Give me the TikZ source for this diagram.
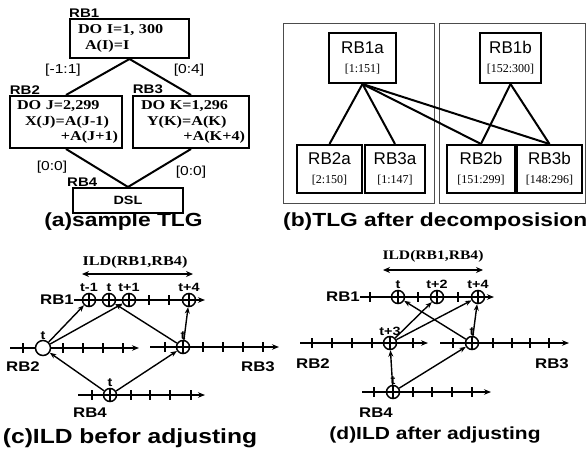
\documentclass[tikz,border=0pt]{standalone}
\usepackage{fontspec}
\setmainfont{Liberation Serif}
\setsansfont{Liberation Sans}
\newfontfamily\wideserif[FakeStretch=1.2]{Liberation Serif}
\newfontfamily\widesans[FakeStretch=1.2]{Liberation Sans}
\usepackage{tikz}
\usetikzlibrary{positioning,arrows.meta}

\begin{document}
\begin{tikzpicture}[x=1pt, y=-1pt,
blockbox/.style={rectangle, draw=black, line width=2pt, inner sep=0pt, align=left, font=\wideserif\bfseries\fontsize{13.5}{15.5}\selectfont},
rbname/.style={font=\widesans\bfseries\fontsize{12.5}{12.5}\selectfont, inner sep=0pt},
dep/.style={font=\widesans\fontsize{13}{13}\selectfont, inner sep=0pt},
tlgedge/.style={line width=2pt},
panel/.style={draw=black!70, line width=0.7pt},
partbox/.style={rectangle, draw=black, line width=2pt, inner sep=0pt, align=center, font=\sffamily\fontsize{17}{17}\selectfont},
caption/.style={font=\widesans\bfseries\fontsize{19}{19}\selectfont, inner sep=0pt},
axisline/.style={line width=1.5pt, -{Stealth[length=7pt,width=5.5pt]}},
tickmark/.style={line width=1.4pt},
opl/.style={circle, draw, line width=1.5pt, fill=white, minimum size=13pt, inner sep=0pt,
  path picture={\draw[line width=1.5pt] (path picture bounding box.north) -- (path picture bounding box.south)
  (path picture bounding box.west) -- (path picture bounding box.east);}},
ocl/.style={circle, draw, line width=1.5pt, fill=white, minimum size=15pt, inner sep=0pt},
tlbl/.style={font=\widesans\bfseries\fontsize{12}{12}\selectfont, inner sep=0pt},
axname/.style={font=\widesans\bfseries\fontsize{14}{14}\selectfont, inner sep=0pt},
ildtext/.style={font=\wideserif\bfseries\fontsize{13.5}{13.5}\selectfont, inner sep=0pt},
ildarrow/.style={line width=1.8pt, {Stealth[length=7pt,width=6pt]}-{Stealth[length=7pt,width=6pt]}},
dlink/.style={line width=1.4pt, -{Stealth[length=6.5pt,width=5pt]}},
]
\useasboundingbox (0,0) rectangle (588,450);

%(a) sample TLG
\node[blockbox, minimum width=119pt, minimum height=39pt, text width=105pt] (rb1) at (129.5,38.5)
  {\hspace*{1pt}DO I=1, 300\\\hspace*{8pt}A(I)=I};
\node[blockbox, minimum width=112pt, minimum height=52pt, text width=104pt] (rb2) at (66,122)
  {\hspace*{3pt}DO J=2,299\\\hspace*{11pt}X(J)=A(J-1)\\\mbox{}\hfill+A(J+1)};
\node[blockbox, minimum width=116pt, minimum height=52pt, text width=108pt] (rb3) at (191,122)
  {\hspace*{4pt}DO K=1,296\\\hspace*{10pt}Y(K)=A(K)\\\mbox{}\hfill+A(K+4)};
\node[blockbox, align=center, minimum width=110pt, minimum height=25pt, font=\widesans\bfseries\fontsize{12}{12}\selectfont] (rb4) at (128,200.5) {DSL};

\node[rbname, above right=0pt of rb1.north west] (rb1name) {RB1};
\node[rbname, above right=1pt of rb2.north west] (rb2name) {RB2};
\node[rbname, above right=1pt of rb3.north west] (rb3name) {RB3};
\node[rbname, above right=0pt and -5pt of rb4.north west] (rb4name) {RB4};

\draw[tlgedge] (rb1.south) -- (rb2.north);
\draw[tlgedge] (rb1.south) -- (rb3.north);
\draw[tlgedge] (rb2.south) -- (rb4.north);
\draw[tlgedge] (rb3.south) -- (rb4.north);

\node[dep] (d12) at (63,70) {[-1:1]};
\node[dep] (d13) at (189,70) {[0:4]};
\node[dep] (d24) at (52,167) {[0:0]};
\node[dep] (d34) at (191,172) {[0:0]};

\node[caption] (capa) at (123.5,222) {(a)sample TLG};

%(b) TLG after decomposision
\draw[panel] (283,23) rectangle (434,203);
\draw[panel] (439,23) rectangle (585,203);

\node[partbox, minimum width=67pt, minimum height=50pt] (rb1a) at (362.5,58)
  {RB1a\\[2pt]{\rmfamily\fontsize{12}{12}\selectfont [1:151]}};
\node[partbox, minimum width=61pt, minimum height=50pt] (rb1b) at (510.5,58)
  {RB1b\\[2pt]{\rmfamily\fontsize{12}{12}\selectfont [152:300]}};
\node[partbox, minimum width=65pt, minimum height=48pt] (rb2a) at (329.5,169)
  {RB2a\\[2pt]{\rmfamily\fontsize{12}{12}\selectfont [2:150]}};
\node[partbox, minimum width=60pt, minimum height=48pt] (rb3a) at (395,169)
  {RB3a\\[2pt]{\rmfamily\fontsize{12}{12}\selectfont [1:147]}};
\node[partbox, minimum width=68pt, minimum height=48pt] (rb2b) at (481,169)
  {RB2b\\[2pt]{\rmfamily\fontsize{12}{12}\selectfont [151:299]}};
\node[partbox, minimum width=65pt, minimum height=48pt] (rb3b) at (549.5,169)
  {RB3b\\[2pt]{\rmfamily\fontsize{12}{12}\selectfont [148:296]}};

\foreach \n in {rb2a,rb3a,rb2b,rb3b}
  \draw[tlgedge] (rb1a.south) -- (\n.north);
\draw[tlgedge] (rb1b.south) -- (rb2b.north);
\draw[tlgedge] (rb1b.south) -- (rb3b.north);

\node[caption, anchor=west] (capb) at (283,222) {(b)TLG after decomposision};

%(c) ILD befor adjusting
\node[ildtext] (cild) at (135,262) {ILD(RB1,RB4)};
\coordinate (cildl) at (82,274);
\coordinate (cildr) at (193,274);
\draw[ildarrow] (cildl) -- (cildr);

\coordinate (c1s) at (74,300);  \coordinate (c1e) at (205,300);
\coordinate (c2s) at (10,348);  \coordinate (c2e) at (139,348);
\coordinate (c3s) at (150,347); \coordinate (c3e) at (279,347);
\coordinate (c4s) at (78,395);  \coordinate (c4e) at (205,395);
\draw[axisline] (c1s) -- (c1e);
\draw[axisline] (c2s) -- (c2e);
\draw[axisline] (c3s) -- (c3e);
\draw[axisline] (c4s) -- (c4e);
\foreach \x in {149,169} \draw[tickmark] (\x,295) -- (\x,305);
\foreach \x in {23,63,83,103,123} \draw[tickmark] (\x,343) -- (\x,353);
\foreach \x in {165,203,223,243,263} \draw[tickmark] (\x,342) -- (\x,352);
\foreach \x in {92,131,150,170,191} \draw[tickmark] (\x,390) -- (\x,400);

\node[opl] (c1m1) at (89,300) {};
\node[opl] (c1t) at (109,300) {};
\node[opl] (c1p1) at (129,300) {};
\node[opl] (c1p4) at (189,300) {};
\node[ocl] (c2t) at (43,348) {};
\node[opl] (c3t) at (183,347) {};
\node[opl] (c4t) at (110,395) {};

\node[tlbl, above=1pt of c1m1] {t-1};
\node[tlbl, above=1pt of c1t] {t};
\node[tlbl, above=1pt of c1p1] {t+1};
\node[tlbl, above=1pt of c1p4] {t+4};
\node[tlbl, above=0pt of c2t] {t};
\node[tlbl, above=0pt of c3t] {t};
\node[tlbl, above=1pt of c4t] {t};

\node[axname, left=0pt of c1s] (c1name) {RB1};
\node[axname] (c2name) at (23,367) {RB2};
\node[axname] (c3name) at (258,367) {RB3};
\node[axname] (c4name) at (90,413) {RB4};

\draw[dlink] (c2t) -- (c1m1);
\draw[dlink] (c2t) -- (c1p1);
\draw[dlink] (c3t) -- (c1t);
\draw[dlink] (c3t) -- (c1p4);
\draw[dlink] (c4t) -- (c2t);
\draw[dlink] (c4t) -- (c3t);

\node[caption, font=\widesans\bfseries\fontsize{20.5}{20.5}\selectfont] (capc) at (130,438) {(c)ILD befor adjusting};

%(d) ILD after adjusting
\node[ildtext, font=\wideserif\bfseries\fontsize{13}{13}\selectfont] (dild) at (433,256) {ILD(RB1,RB4)};
\coordinate (dildl) at (383,270);
\coordinate (dildr) at (483,270);
\draw[ildarrow] (dildl) -- (dildr);

\coordinate (d1s) at (360,297); \coordinate (d1e) at (494,297);
\coordinate (d2s) at (300,343); \coordinate (d2e) at (428,343);
\coordinate (d3s) at (440,343); \coordinate (d3e) at (569,343);
\coordinate (d4s) at (362,392); \coordinate (d4e) at (491,392);
\draw[axisline] (d1s) -- (d1e);
\draw[axisline] (d2s) -- (d2e);
\draw[axisline] (d3s) -- (d3e);
\draw[axisline] (d4s) -- (d4e);
\foreach \x in {370,418,458} \draw[tickmark] (\x,292) -- (\x,302);
\foreach \x in {312,332,352,372,413} \draw[tickmark] (\x,338) -- (\x,348);
\foreach \x in {453,493,512,530,549} \draw[tickmark] (\x,338) -- (\x,348);
\foreach \x in {374,413,432,452,472} \draw[tickmark] (\x,387) -- (\x,397);

\node[opl] (d1t) at (398,297) {};
\node[opl] (d1p2) at (437,297) {};
\node[opl] (d1p4) at (478,297) {};
\node[opl] (d2p3) at (390,343) {};
\node[opl] (d3t) at (472,343) {};
\node[opl] (d4t) at (393,392) {};

\node[tlbl, above=1pt of d1t] {t};
\node[tlbl, above=1pt of d1p2] {t+2};
\node[tlbl, above=1pt of d1p4] {t+4};
\node[tlbl, above=0pt of d2p3] {t+3};
\node[tlbl, above=0pt of d3t] {t};
\node[tlbl, above=0pt of d4t] {t};

\node[axname, left=0pt of d1s] (d1name) {RB1};
\node[axname] (d2name) at (313,364) {RB2};
\node[axname] (d3name) at (552,364) {RB3};
\node[axname] (d4name) at (376,413) {RB4};

\draw[dlink] (d2p3) -- (d1p2);
\draw[dlink] (d2p3) -- (d1p4);
\draw[dlink] (d3t) -- (d1t);
\draw[dlink] (d3t) -- (d1p4);
\draw[dlink] (d4t) -- (d2p3);
\draw[dlink] (d4t) -- (d3t);

\node[caption, font=\widesans\bfseries\fontsize{17.5}{17.5}\selectfont] (capd) at (435,435) {(d)ILD after adjusting};
\end{tikzpicture}
\end{document}
